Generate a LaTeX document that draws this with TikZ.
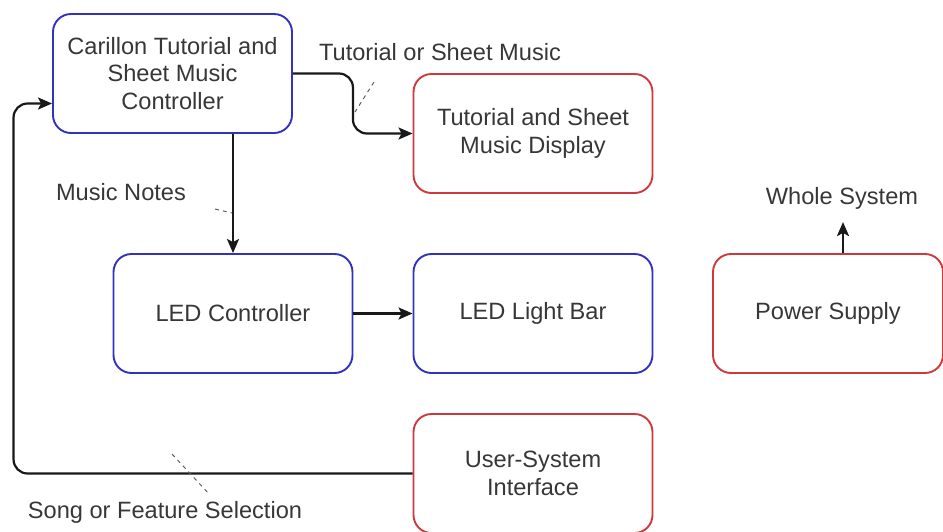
\documentclass[tikz,border=0pt]{standalone}
\usepackage{fontspec}
\setmainfont{Liberation Sans}
\usetikzlibrary{arrows.meta,calc}

\definecolor{boxblue}{RGB}{50,50,190}
\definecolor{boxred}{RGB}{205,58,62}
\definecolor{txt}{RGB}{55,55,55}
\definecolor{wire}{RGB}{25,25,25}

\tikzset{
  block/.style={draw, line width=1.9pt, rounded corners=18pt, fill=white,
    minimum width=239pt, minimum height=119pt, inner sep=0pt,
    align=center, text=txt, font=\fontsize{23.6}{27.5}\selectfont},
  bluebox/.style={block, draw=boxblue},
  redbox/.style={block, draw=boxred},
  lbl/.style={text=txt, font=\fontsize{23.6}{27.5}\selectfont, inner sep=0pt},
  wirearrow/.style={draw=wire, line width=2.2pt,
    -{Stealth[length=14pt,width=12pt,inset=3pt]}},
  leader/.style={draw=txt!80, line width=1pt, dash pattern=on 4pt off 4pt}
}

\begin{document}
\begin{tikzpicture}[x=1pt,y=-1pt]
  \useasboundingbox (0,0) rectangle (943,531);

  % blocks
  \node[bluebox] (car) at (172.5,73.5) {Carillon Tutorial and\\Sheet Music\\Controller};
  \node[redbox]  (tut) at (533,133.5) {Tutorial and Sheet\\Music Display};
  \node[bluebox] (ledc) at (233,313.5) {\raisebox{-2pt}{LED Controller}};
  \node[bluebox] (bar) at (533,313.5) {\raisebox{-2pt}{LED Light Bar}};
  \node[redbox, minimum width=230pt] (pw) at (828,313.5) {\raisebox{-2pt}{Power Supply}};
  \node[redbox]  (ui) at (533,473.5) {User-System\\Interface};

  % labels
  \node[lbl] (lt) at (440,52) {Tutorial or Sheet Music};
  \node[lbl] (lm) at (121,192) {Music Notes};
  \node[lbl] (lw) at (842,198) {Whole System};
  \node[lbl] (ls) at (165,512) {Song or Feature Selection};

  % connectors
  \draw[wirearrow, rounded corners=14pt] (car.east) -- ($(car.east)+(60,0)$) |- (tut.west);
  \draw[wirearrow] (car.south -| ledc) -- (ledc.north);
  \draw[wirearrow] (ledc.east) -- (bar.west);
  \draw[wirearrow] ($(pw.north)+(15,0)$) -- ++(0,-31);
  \draw[wirearrow, rounded corners=14pt] (ui.west) -- ++(-399,0) |- ($(car.west)+(0,30)$);

  % dashed label leaders
  \draw[leader] (374,82) -- (355,112);
  \draw[leader] (215,209) -- (232,213);
  \draw[leader] (172,454) -- (210,495);
\end{tikzpicture}
\end{document}
